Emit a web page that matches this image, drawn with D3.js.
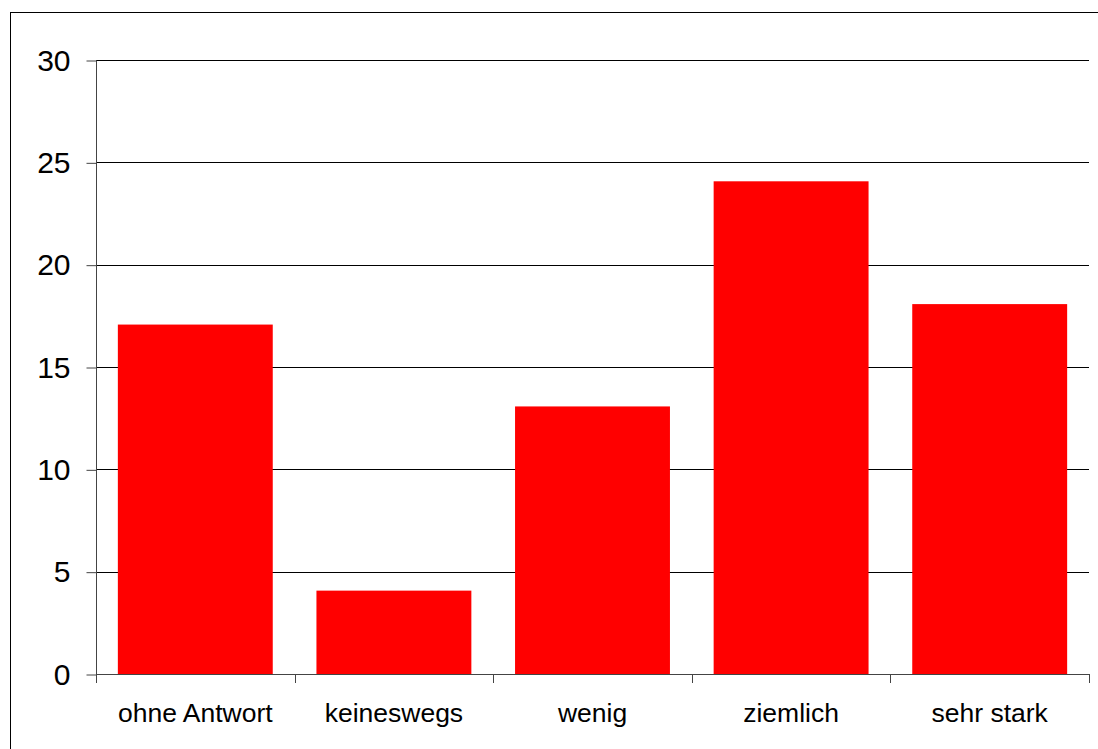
<!DOCTYPE html>
<html>
<head>
<meta charset="utf-8">
<script src="https://cdn.jsdelivr.net/npm/d3@7"></script>
<style>
  html, body { margin: 0; padding: 0; background: #fff; }
  svg { display: block; }
  text { font-family: "Liberation Sans", Arial, sans-serif; fill: #000; }
</style>
</head>
<body>
<svg id="chart" width="1098" height="749"></svg>
<script>
// Antwortverteilung
const categories = ["ohne Antwort", "keineswegs", "wenig", "ziemlich", "sehr stark"];
const values = [17, 4, 13, 24, 18];
const yTicks = [0, 5, 10, 15, 20, 25, 30];

const W = 1098, H = 749;
const plot = { left: 96, right: 1089, top: 60, bottom: 674 };

const svg = d3.select("#chart");

// outer frame (runs off the right and bottom edges)
svg.append("rect")
  .attr("x", 10.5).attr("y", 12.5)
  .attr("width", W + 20).attr("height", H + 20)
  .attr("fill", "#fff")
  .attr("stroke", "#000").attr("stroke-width", 1);

const x = d3.scaleBand()
  .domain(categories)
  .range([plot.left, plot.right])
  .paddingInner(0.22)
  .paddingOuter(0.11);

const y = d3.scaleLinear()
  .domain([0, 30])
  .range([plot.bottom, plot.top]);

// horizontal gridlines
svg.append("g")
  .selectAll("line")
  .data(yTicks.filter(d => d > 0))
  .join("line")
  .attr("x1", plot.left).attr("x2", plot.right)
  .attr("y1", d => Math.round(y(d)) + 0.5)
  .attr("y2", d => Math.round(y(d)) + 0.5)
  .attr("stroke", "#000").attr("stroke-width", 1);

// bars
svg.append("g")
  .selectAll("rect")
  .data(values)
  .join("rect")
  .attr("x", (d, i) => x(categories[i]))
  .attr("width", x.bandwidth())
  .attr("y", d => y(d) - 1.5)
  .attr("height", d => plot.bottom - y(d) + 1.5)
  .attr("fill", "#ff0000");

// y axis
const yAxis = svg.append("g")
  .attr("transform", `translate(${plot.left + 0.5},0.5)`)
  .call(d3.axisLeft(y).tickValues(yTicks).tickSize(10).tickPadding(16).tickFormat(d3.format("d")));
yAxis.select(".domain").attr("stroke", "#444").attr("d", `M0,${plot.top}V${plot.bottom}`);
yAxis.selectAll(".tick line").attr("stroke", "#444");
yAxis.selectAll(".tick text")
  .attr("font-size", 30)
  .attr("font-family", "'Liberation Sans', Arial, sans-serif")
  .attr("fill", "#000");

// x axis baseline with ticks at band boundaries
const xg = svg.append("g");
xg.append("line")
  .attr("x1", plot.left).attr("x2", plot.right)
  .attr("y1", plot.bottom + 0.5).attr("y2", plot.bottom + 0.5)
  .attr("stroke", "#444");
const step = x.step();
const bounds = d3.range(categories.length + 1).map(i => plot.left + i * step);
xg.selectAll("line.tk")
  .data(bounds)
  .join("line")
  .attr("class", "tk")
  .attr("x1", d => Math.round(d) + 0.5).attr("x2", d => Math.round(d) + 0.5)
  .attr("y1", plot.bottom).attr("y2", plot.bottom + 9)
  .attr("stroke", "#444");

xg.selectAll("text")
  .data(categories)
  .join("text")
  .attr("x", d => x(d) + x.bandwidth() / 2)
  .attr("y", 722)
  .attr("text-anchor", "middle")
  .attr("font-size", 26.5)
  .text(d => d);
</script>
</body>
</html>
